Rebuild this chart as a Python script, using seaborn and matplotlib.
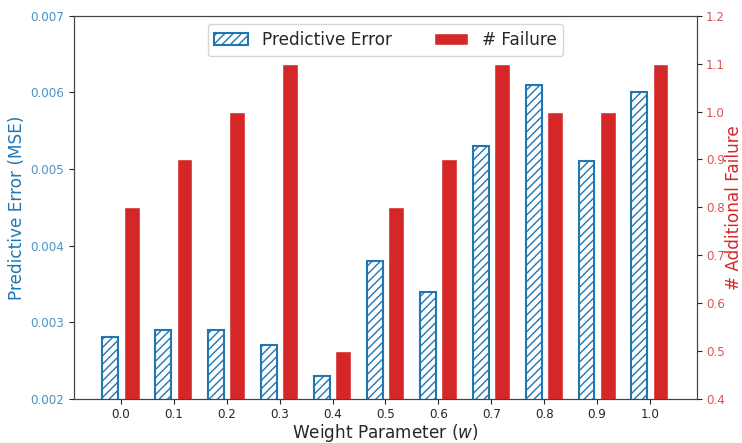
import numpy as np
import pandas as pd
import seaborn as sns
import matplotlib.pyplot as plt

sns.set_style('ticks')
plt.rcParams['font.family'] = ['DejaVu Sans']

# values
weights = [0.0, 0.1, 0.2, 0.3, 0.4, 0.5, 0.6, 0.7, 0.8, 0.9, 1.0]
pred_error = [0.0028, 0.0029, 0.0029, 0.0027, 0.0023, 0.0038, 0.0034, 0.0053, 0.0061, 0.0051, 0.0060]
failures = [0.8, 0.9, 1.0, 1.1, 0.5, 0.8, 0.9, 1.1, 1.0, 1.0, 1.1]
fail_ticks = [0.4, 0.5, 0.6, 0.7, 0.8, 0.9, 1.0, 1.1, 1.2]

blue = '#1f77b4'
red = '#d62728'
offset = 0.02

df = pd.DataFrame({'w': weights, 'mse': pred_error, 'fail': failures})
df['w_err'] = df['w'] - offset
df['w_fail'] = df['w'] + offset

fig, ax = plt.subplots(figsize=(7.42, 4.43), dpi=100)
ax2 = ax.twinx()

sns.barplot(data=df, x='w_err', y='mse', native_scale=True, width=0.3, ax=ax,
            fill=False, color=blue, edgecolor=blue, linewidth=1.5, hatch='////',
            errorbar=None, label='Predictive Error')
sns.barplot(data=df, x='w_fail', y='fail', native_scale=True, width=0.3, ax=ax2,
            color=red, saturation=1, errorbar=None, label='# Failure')

ax.set_ylim(0.002, 0.007)
ax2.set_ylim(0.4, 1.2)
ax.set_xticks(weights)
ax.set_xticklabels([f'{w:.1f}' for w in weights])
ax2.set_yticks(fail_ticks)
ax2.set_yticklabels([f'{v:.1f}' for v in fail_ticks])
ax.set_xlim(-0.0885, 1.0885)

ax.set_xlabel('Weight Parameter ($w$)', fontsize=12.2, labelpad=1)
ax.set_ylabel('Predictive Error (MSE)', color=blue, fontsize=12.2, labelpad=3)
ax2.set_ylabel('# Additional Failure', color=red, fontsize=12.2, labelpad=0)
ax.tick_params(axis='y', labelcolor=(0.12, 0.47, 0.71, 0.8), labelsize=8.6)
ax.tick_params(axis='x', labelsize=8.6, pad=3)
ax2.tick_params(axis='y', labelcolor=(0.84, 0.15, 0.16, 0.8), labelsize=8.6, pad=3)
for a in (ax, ax2):
    for s in a.spines.values():
        s.set_color('#444444')

if ax.get_legend() is not None:
    ax.get_legend().remove()
h1, l1 = ax.get_legend_handles_labels()
h2, l2 = ax2.get_legend_handles_labels()
ax2.legend(h1 + h2, l1 + l2, loc='upper center', ncol=2, fontsize=12.2,
           columnspacing=2.5)

plt.subplots_adjust(left=0.1, right=0.939, top=0.964, bottom=0.1)
plt.savefig('out.png')
